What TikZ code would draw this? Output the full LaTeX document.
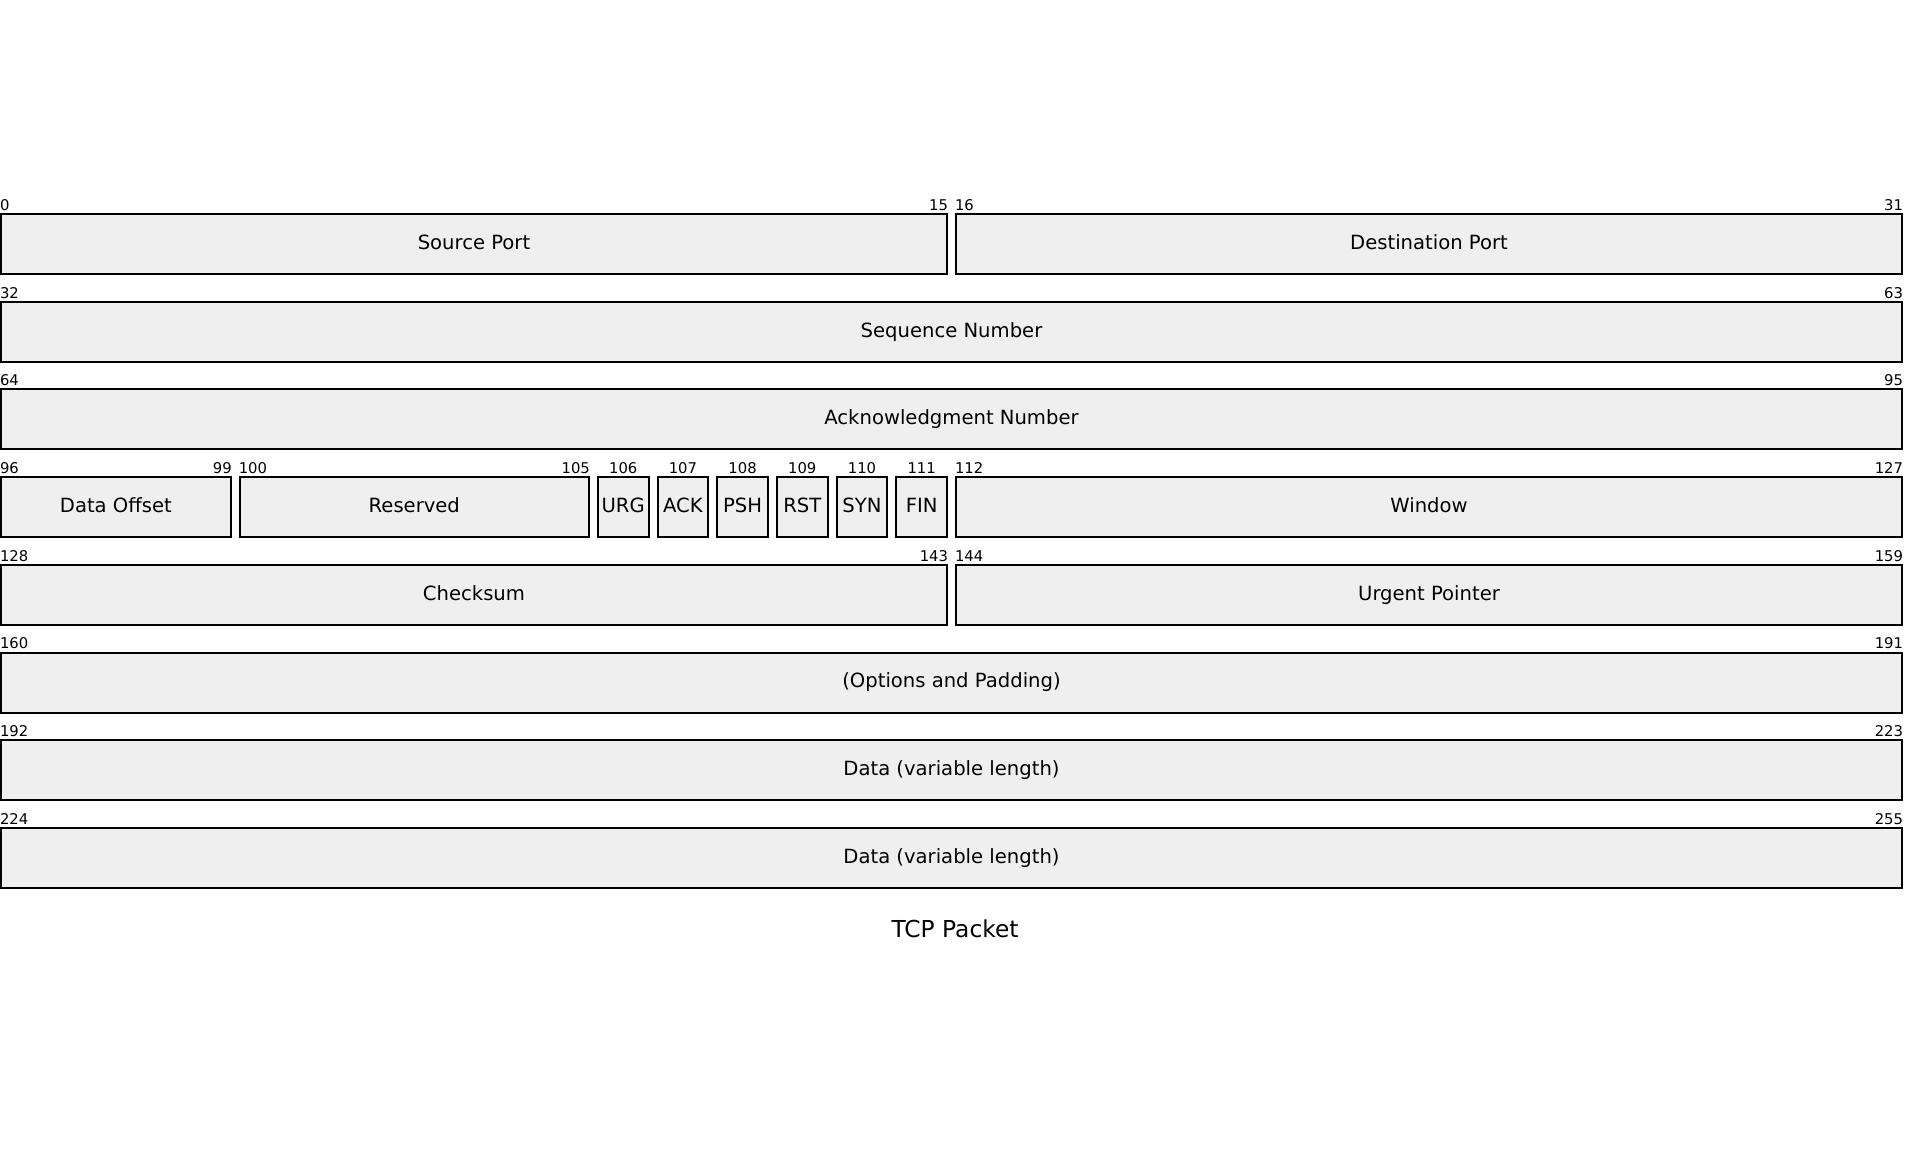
\documentclass[tikz,border=0pt]{standalone}
\usepackage{fontspec}
\setmainfont{DejaVu Sans}
\begin{document}
\begin{tikzpicture}[x=0.75pt,y=-0.75pt,
  fieldbox/.style={draw=black, fill=fieldgray, line width=1.5pt, rectangle,
    minimum height=45pt, inner sep=0pt, text height=10pt, text depth=2pt,
    font=\fontsize{14.7pt}{16pt}\selectfont},
  bitlabel/.style={inner sep=0pt, outer sep=0pt, font=\fontsize{11.1pt}{12pt}\selectfont},
  titletext/.style={inner sep=0pt, font=\fontsize{17.5pt}{20pt}\selectfont}]
\definecolor{fieldgray}{HTML}{EFEFEF}
\useasboundingbox (0,0) rectangle (1913,1162);

% A field spanning bits #3..#4 of 32-bit row #2, with start/end bit numbers above it
\newcommand\pktfield[7]{%
  \pgfmathsetmacro\fl{1+#3*59.6875}%
  \pgfmathsetmacro\fr{1+(#4+1)*59.6875-9}%
  \pgfmathsetmacro\ft{214+#2*87.7}%
  \pgfmathsetmacro\fw{(\fr-\fl)*0.75}%
  \node[fieldbox, minimum width=\fw pt] (#1) at ({(\fl+\fr)/2},{\ft+30}) {#5};
  \node[bitlabel, anchor=base west] (#1-lo) at ([yshift=2pt]#1.north west) {#6};
  \node[bitlabel, anchor=base east] (#1-hi) at ([yshift=2pt]#1.north east) {#7};
}
% A one-bit flag with a single bit number centred above it
\newcommand\pktflag[4]{%
  \pgfmathsetmacro\fl{1+#2*59.6875}%
  \pgfmathsetmacro\fr{1+(#2+1)*59.6875-9}%
  \pgfmathsetmacro\ft{214+3*87.7}%
  \pgfmathsetmacro\fw{(\fr-\fl)*0.75}%
  \node[fieldbox, minimum width=\fw pt] (#1) at ({(\fl+\fr)/2},{\ft+30}) {#3};
  \node[bitlabel, anchor=base] (#1-lbl) at ([yshift=2pt]#1.north) {#4};
}

\pktfield{sport}{0}{0}{15}{Source Port}{0}{15}
\pktfield{dport}{0}{16}{31}{Destination Port}{16}{31}
\pktfield{seq}{1}{0}{31}{Sequence Number}{32}{63}
\pktfield{ackno}{2}{0}{31}{Acknowledgment Number}{64}{95}
\pktfield{doff}{3}{0}{3}{Data Offset}{96}{99}
\pktfield{rsvd}{3}{4}{9}{Reserved}{100}{105}
\pktflag{urg}{10}{URG}{106}
\pktflag{ackf}{11}{ACK}{107}
\pktflag{psh}{12}{PSH}{108}
\pktflag{rst}{13}{RST}{109}
\pktflag{syn}{14}{SYN}{110}
\pktflag{fin}{15}{FIN}{111}
\pktfield{win}{3}{16}{31}{Window}{112}{127}
\pktfield{csum}{4}{0}{15}{Checksum}{128}{143}
\pktfield{urgp}{4}{16}{31}{Urgent Pointer}{144}{159}
\pktfield{opts}{5}{0}{31}{(Options and Padding)}{160}{191}
\pktfield{dataa}{6}{0}{31}{Data (variable length)}{192}{223}
\pktfield{datab}{7}{0}{31}{Data (variable length)}{224}{255}

\node[titletext, anchor=base] (title) at (955,937) {TCP Packet};
\end{tikzpicture}
\end{document}
